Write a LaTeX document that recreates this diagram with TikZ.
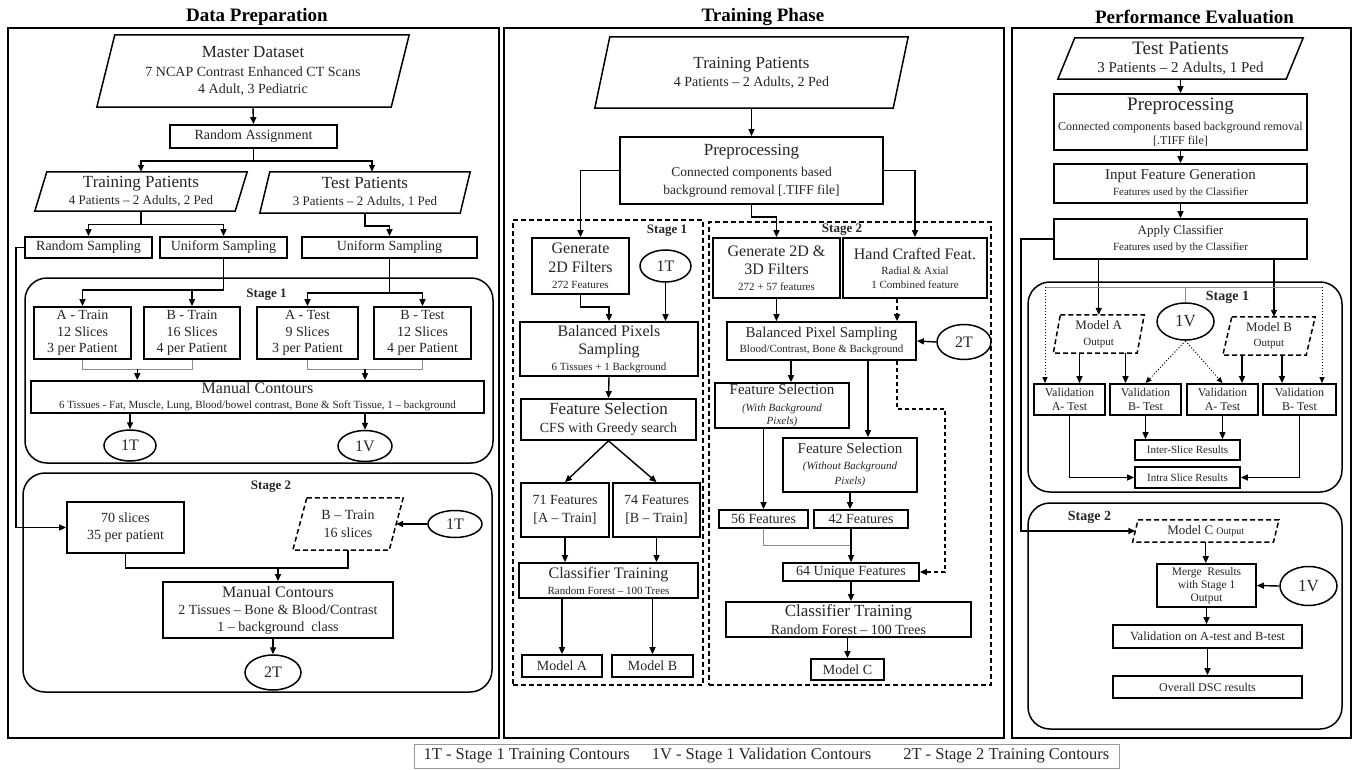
\documentclass[tikz,border=0pt]{standalone}
\usepackage{fontspec}
\setmainfont{Liberation Serif}
\usetikzlibrary{shapes.geometric,arrows.meta,calc}
\newcommand\fz[2]{\fontsize{#1pt}{#2pt}\selectfont}
\newcommand\drawpara[3][]{\draw[pline,#1] ([xshift=#3]#2.north west) -- ([xshift=#3]#2.north east) -- ([xshift=-#3]#2.south east) -- ([xshift=-#3]#2.south west) -- cycle;}
\begin{document}
\begin{tikzpicture}[x=1pt,y=-1pt,
 box/.style={draw, line width=1.7pt, inner sep=0pt, align=center, text=black!85, font=\fz{14}{17}},
 pbox/.style={inner sep=0pt, align=center, text=black!85, font=\fz{14}{17}},
 pline/.style={line width=1.5pt},
 dpline/.style={dash pattern=on 5pt off 3pt},
 ell/.style={ellipse, draw, line width=1.5pt, inner sep=0pt, text=black!85, font=\fz{16}{18}},
 arr/.style={line width=1.4pt, -{Triangle[length=7pt,width=6pt]}},
 ln/.style={line width=1.4pt},
 gl/.style={line width=0.7pt, draw=black!45},
 dotarr/.style={line width=1pt, dotted, -{Triangle[length=6pt,width=5pt]}},
 stagebox/.style={draw, line width=1.5pt, rounded corners=22pt, inner sep=0pt},
 dstage/.style={draw, line width=1.6pt, dash pattern=on 5pt off 3pt, inner sep=0pt},
 stl/.style={font=\bfseries\fz{13}{15}, text=black!85, inner sep=0pt},
 ttl/.style={font=\bfseries\fz{19}{21}, inner sep=0pt},
 panel/.style={draw, line width=2.2pt, inner sep=0pt}
]
\fill[white] (0,0) rectangle (1355,770);
\useasboundingbox (0,0) rectangle (1355,770);

% ---------- panels and titles
\node[panel, minimum width=491, minimum height=710] (pan1) at (253.5,383) {};
\node[panel, minimum width=500, minimum height=710] (pan2) at (754,383) {};
\node[panel, minimum width=339, minimum height=710] (pan3) at (1181.5,383) {};
\node[ttl] (t1) at (257,17) {Data Preparation};
\node[ttl] (t2) at (763,17) {Training Phase};
\node[ttl] (t3) at (1194.5,17) {Performance Evaluation};

% ================= PANEL 1
\node[pbox, minimum width=294, minimum height=72] (md) at (253,71) {{\fz{17}{19}Master Dataset}\\[2pt]7 NCAP Contrast Enhanced CT Scans\\4 Adult, 3 Pediatric};
\drawpara{md}{9}
\node[box, minimum width=167, minimum height=23] (ra) at (253.5,136.5) {Random Assignment};
\node[pbox, minimum width=200, minimum height=39, font=\fz{13}{17}] (tp1) at (141,191.5) {{\fz{17}{19}Training Patients}\\4 Patients – 2 Adults, 2 Ped};
\drawpara{tp1}{6}
\node[pbox, minimum width=200, minimum height=41, font=\fz{13}{17}] (ts1) at (365,192.5) {{\fz{17}{19}Test Patients}\\3 Patients – 2 Adults, 1 Ped};
\drawpara{ts1}{5}
\node[box, minimum width=127, minimum height=21] (rs) at (88.5,247.5) {Random Sampling};
\node[box, minimum width=127, minimum height=21] (us1) at (223.5,247.5) {Uniform Sampling};
\node[box, minimum width=175, minimum height=21] (us2) at (389.5,247.5) {Uniform Sampling};

\node[stagebox, minimum width=468, minimum height=185] (p1s1) at (259,370.5) {};
\node[stl] (p1s1l) at (266.5,295) {Stage 1};
\node[box, minimum width=97, minimum height=52, font=\fz{14}{16.5}] (at) at (82.5,333) {A - Train\\12 Slices\\3 per Patient};
\node[box, minimum width=96, minimum height=52, font=\fz{14}{16.5}] (bt) at (192,333) {B - Train\\16 Slices\\4 per Patient};
\node[box, minimum width=101, minimum height=52, font=\fz{14}{16.5}] (ae) at (307.5,333) {A - Test\\9 Slices\\3 per Patient};
\node[box, minimum width=97, minimum height=52, font=\fz{14}{16.5}] (be) at (422.5,333) {B - Test\\12 Slices\\4 per Patient};
\node[box, minimum width=453, minimum height=32, font=\fz{11}{15}] (mc1) at (257.5,397) {{\fz{16}{18}Manual Contours}\\6 Tissues - Fat, Muscle, Lung, Blood/bowel contrast, Bone \& Soft Tissue, 1 – background};
\node[ell, minimum width=52, minimum height=31] (e1t1) at (130,445.5) {1T};
\node[ell, minimum width=54, minimum height=31] (e1v1) at (365,446) {1V};

\node[stagebox, minimum width=469, minimum height=219] (p1s2) at (257.5,582.5) {};
\node[stl] (p1s2l) at (271,487) {Stage 2};
\node[box, minimum width=117, minimum height=51, font=\fz{14}{16.5}] (s70) at (125.5,527.5) {70 slices\\35 per patient};
\node[pbox, minimum width=96, minimum height=52, font=\fz{14}{18}] (bt2) at (348,524) {B – Train\\16 slices};
\drawpara[dpline]{bt2}{7}
\node[ell, minimum width=54, minimum height=27] (e1t2) at (455,524) {1T};
\node[box, minimum width=230, minimum height=56, font=\fz{14}{17}] (mc2) at (278,610) {{\fz{16}{18}Manual Contours}\\2 Tissues – Bone \& Blood/Contrast\\1 – background~~class};
\node[ell, minimum width=56, minimum height=35] (e2t1) at (273,672.5) {2T};

\draw[arr] (md.south) -- (ra.north);
\draw[arr] (ra.south) -- ++(0,12) -| (tp1.north);
\draw[arr] (ra.south) -- ++(0,12) -| ([xshift=7]ts1.north);
\draw[arr] (tp1.south) -- ++(0,13.5) -| (rs.north);
\draw[arr] (tp1.south) -- ++(0,13.5) -| (us1.north);
\draw[arr] (ts1.south) -- ++(0,13) -| (us2.north);
\draw[arr] (rs.west) -- ++(-8,0) |- (s70.west);
\draw[arr] (us1.south) -- ++(0,31) -| (at.north);
\draw[arr] (us1.south) -- ++(0,31) -| (bt.north);
\draw[arr] (us2.south) -- ++(0,34) -| (ae.north);
\draw[arr] (us2.south) -- ++(0,34) -| (be.north);
\draw[gl] (at.south) -- ++(0,9) -| (bt.south);
\draw[gl] (ae.south) -- ++(0,9) -| (be.south);
\coordinate (m1) at ($(at.south)!.5!(bt.south)+(0,9)$);
\coordinate (m2) at ($(ae.south)!.5!(be.south)+(0,9)$);
\draw[arr] (m1) -- (m1 |- mc1.north);
\draw[arr] (m2) -- (m2 |- mc1.north);
\draw[arr] (mc1.south -| e1t1.north) -- (e1t1.north);
\draw[arr] (mc1.south -| e1v1.north) -- (e1v1.north);
\draw[arr] (e1t2.west) -- (bt2.east);
\draw[ln] (s70.south) -- ++(0,14) coordinate (m3) -| (bt2.south);
\draw[arr] (m3 -| mc2.north) -- (mc2.north);
\draw[arr] (mc2.south -| e2t1.north) -- (e2t1.north);

% ================= PANEL 2
\node[pbox, minimum width=298, minimum height=71, font=\fz{14}{18}] (tp2) at (751.5,72.5) {{\fz{17}{19}Training Patients}\\4 Patients – 2 Adults, 2 Ped};
\drawpara{tp2}{7.5}
\node[box, minimum width=263, minimum height=67, font=\fz{13.5}{18}] (pp2) at (751.5,170.5) {{\fz{17}{19}Preprocessing}\\[3pt]Connected components based\\background removal [.TIFF file]};
\node[dstage, minimum width=190, minimum height=465] (p2s1) at (608,452.5) {};
\node[stl] (p2s1l) at (667,231) {Stage 1};
\node[dstage, minimum width=282, minimum height=463] (p2s2) at (850,453.5) {};
\node[stl] (p2s2l) at (842,230) {Stage 2};

\node[box, minimum width=97, minimum height=56, font=\fz{11}{16}] (g2d) at (580.5,266) {{\fz{16}{18}Generate}\\[3pt]{\fz{16}{18}2D Filters}\\272 Features};
\node[ell, minimum width=51, minimum height=32] (e1t3) at (665.5,266) {1T};
\node[box, minimum width=178, minimum height=54, font=\fz{11}{16}] (bps1) at (609,349) {{\fz{16}{18}Balanced Pixels}\\[2pt]{\fz{16}{18}Sampling}\\6 Tissues + 1 Background};
\node[box, minimum width=175, minimum height=41, font=\fz{14}{18}] (fs1) at (608.5,419.5) {{\fz{17}{19}Feature Selection}\\CFS with Greedy search};
\node[box, minimum width=88, minimum height=54, font=\fz{14}{18}] (f71) at (565,510) {71 Features\\{[A – Train]}};
\node[box, minimum width=87, minimum height=54, font=\fz{14}{18}] (f74) at (656.5,510) {74 Features\\{[B – Train]}};
\node[box, minimum width=179, minimum height=35, font=\fz{11}{16}] (ct1) at (608.5,580.5) {{\fz{16}{18}Classifier Training}\\Random Forest – 100 Trees};
\node[box, minimum width=80, minimum height=22] (ma) at (562,666) {Model A};
\node[box, minimum width=81, minimum height=22] (mb) at (652.5,666) {Model B};

\node[box, minimum width=127, minimum height=60, font=\fz{11}{16}] (g23) at (776.5,268) {{\fz{16}{18}Generate 2D \&}\\[2pt]{\fz{16}{18}3D Filters}\\272 + 57 features};
\node[box, minimum width=144, minimum height=60, font=\fz{11}{14}] (hcf) at (915,268) {{\fz{16}{18}Hand Crafted Feat.}\\[1pt]Radial \& Axial\\1 Combined feature};
\node[box, minimum width=189, minimum height=38, font=\fz{11}{15}] (bps2) at (821.5,341) {{\fz{15}{17}Balanced Pixel Sampling}\\Blood/Contrast, Bone \& Background};
\node[ell, minimum width=54, minimum height=35] (e2t2) at (964,342) {2T};
\node[box, minimum width=134, minimum height=45, font=\fz{11}{13}] (fsw) at (782,405.5) {{\fz{15}{17}Feature Selection}\\[4pt]\textit{(With Background}\\\textit{Pixels)}};
\node[box, minimum width=134, minimum height=54, font=\fz{11}{15.5}] (fswo) at (850,465) {{\fz{15}{17}Feature Selection}\\\textit{(Without Background}\\\textit{Pixels)}};
\node[box, minimum width=89, minimum height=18] (f56) at (763.5,519) {56 Features};
\node[box, minimum width=94, minimum height=18] (f42) at (861,519) {42 Features};
\node[box, minimum width=136, minimum height=18] (u64) at (851,572) {64 Unique Features};
\node[box, minimum width=245, minimum height=35, font=\fz{14}{18}] (ct2) at (848.5,619.5) {{\fz{17}{19}Classifier Training}\\Random Forest – 100 Trees};
\node[box, minimum width=73, minimum height=21] (mdc) at (847.5,669.5) {Model C};

\draw[arr] (tp2.south) -- (pp2.north);
\draw[arr] (pp2.west) -| (g2d.north);
\draw[arr] (pp2.east) -| (hcf.north);
\draw[arr] (pp2.south) -- ++(0,12) -| (g23.north);
\draw[arr] (e1t3.south) -- (e1t3.south |- bps1.north);
\draw[arr] (g2d.south) -- ++(0,12) -| (bps1.north);
\draw[arr] (bps1.south) -- (fs1.north);
\draw[arr] (fs1.south) -- (f71.north);
\draw[arr] (fs1.south) -- (f74.north);
\draw[arr] (f71.south) -- (f71.south |- ct1.north);
\draw[arr] (f74.south) -- (f74.south |- ct1.north);
\draw[arr] (ct1.south -| ma.north) -- (ma.north);
\draw[arr] (ct1.south -| mb.north) -- (mb.north);
\draw[arr] (g23.south) -- (g23.south |- bps2.north);
\coordinate (hcd) at ([xshift=-18]hcf.south);
\draw[arr, dash pattern=on 4pt off 3pt] (hcd) -- (hcd |- bps2.north);
\draw[arr] (e2t2.west) -- (bps2.east);
\coordinate (fswi) at ([xshift=9]fsw.north);
\draw[arr] (fswi |- bps2.south) -- (fswi);
\coordinate (fswoi) at ([xshift=18]fswo.north);
\draw[arr] (fswoi |- bps2.south) -- (fswoi);
\draw[arr, dash pattern=on 4pt off 3pt] (hcd |- bps2.south) -- ++(0,48) -- ++(48,0) |- (u64.east);
\draw[arr] (f56.north |- fsw.south) -- (f56.north);
\draw[arr] (fswo.south) -- (fswo.south |- f42.north);
\draw[gl] (f56.south) -- ++(0,16) -| (u64.north);
\draw[arr] (u64.north |- f42.south) -- (u64.north);
\draw[arr] (u64.south) -- (u64.south |- ct2.north);
\draw[arr] (mdc.north |- ct2.south) -- (mdc.north);

% ================= PANEL 3
\node[pbox, minimum width=228, minimum height=41, font=\fz{15}{18}] (tp3) at (1180.5,58.5) {{\fz{19}{21}Test Patients}\\3 Patients – 2 Adults, 1 Ped};
\drawpara{tp3}{8.5}
\node[box, minimum width=253, minimum height=56, font=\fz{12}{14}] (pp3) at (1180.5,122) {{\fz{19}{21}Preprocessing}\\[6pt]Connected components based background removal\\{[.TIFF file]}};
\node[box, minimum width=253, minimum height=39, font=\fz{11}{16}] (ifg) at (1180.5,183.5) {{\fz{15}{17}Input Feature Generation}\\Features used by the Classifier};
\node[box, minimum width=253, minimum height=40, font=\fz{11}{16}] (ac) at (1180.5,239) {{\fz{13}{15}Apply Classifier}\\Features used by the Classifier};

\node[stagebox, minimum width=314, minimum height=210] (p3s1) at (1185,387) {};
\node[stl, font=\bfseries\fz{14}{16}] (p3s1l) at (1227.5,297) {Stage 1};
\node[pbox, minimum width=83.5, minimum height=38, font=\fz{11}{16}] (mao) at (1098.75,334) {{\fz{13}{15}Model A}\\Output};
\drawpara[dpline]{mao}{3.5}
\node[pbox, minimum width=83, minimum height=38, font=\fz{11}{15}] (mbo) at (1269,336) {{\fz{13}{15}Model B}\\Output};
\drawpara[dpline]{mbo}{4.5}
\node[ell, minimum width=57, minimum height=37, font=\fz{17}{19}] (e1v2) at (1185.5,321.5) {1V};
\node[box, minimum width=71, minimum height=31, font=\fz{12}{14}] (v1) at (1069.5,399.5) {Validation\\A- Test};
\node[box, minimum width=71, minimum height=31, font=\fz{12}{14}] (v2) at (1145.5,399.5) {Validation\\B- Test};
\node[box, minimum width=71, minimum height=31, font=\fz{12}{14}] (v3) at (1222.5,399.5) {Validation\\A- Test};
\node[box, minimum width=73, minimum height=31, font=\fz{12}{14}] (v4) at (1299.5,399.5) {Validation\\B- Test};
\node[box, minimum width=105, minimum height=20, font=\fz{11}{13}] (isr) at (1187.5,450) {Inter-Slice Results};
\node[box, minimum width=105, minimum height=21, font=\fz{11}{13}] (intra) at (1187.5,477.5) {Intra Slice Results};

\node[stagebox, minimum width=314, minimum height=226] (p3s2) at (1185,616) {};
\node[stl, font=\bfseries\fz{14}{16}] (p3s2l) at (1089.5,517) {Stage 2};
\node[pbox, minimum width=140.5, minimum height=22, font=\fz{13}{15}] (mco) at (1205.75,531) {Model C {\fz{10}{12}Output}};
\drawpara[dpline]{mco}{2.75}
\node[box, minimum width=99, minimum height=43, font=\fz{11.5}{13}] (mr) at (1206.5,585.5) {Merge~~Results\\with Stage 1\\Output};
\node[ell, minimum width=57, minimum height=39, font=\fz{17}{19}] (e1v3) at (1308.5,586) {1V};
\node[box, minimum width=189, minimum height=23, font=\fz{12.5}{15}] (vab) at (1207.5,636.5) {Validation on A-test and B-test};
\node[box, minimum width=189, minimum height=22, font=\fz{12}{14}] (ods) at (1207.5,687) {Overall DSC results};

\draw[arr] (tp3.south) -- (pp3.north);
\draw[arr] (pp3.south) -- (ifg.north);
\draw[arr] (ifg.south) -- (ac.north);
\draw[arr] (ac.west) -- ++(-32,0) |- (mco.west);
\draw[arr] (ac.south -| mao.north) -- (mao.north);
\coordinate (bin) at ([xshift=5]mbo.north);
\draw[arr] (ac.south -| bin) -- (bin);
\draw[gl] (e1v2.north) -- ++(0,-15) coordinate (gt);
\coordinate (dl) at ([xshift=-24.5]v1.north);
\coordinate (dr) at ([xshift=22.5]v4.north);
\draw[gl] (dl |- gt) -- (dr |- gt);
\draw[dotarr] (dl |- gt) -- (dl);
\draw[dotarr] (dr |- gt) -- (dr);
\coordinate (v1i) at ([xshift=10]v1.north);
\coordinate (v2i) at ([xshift=-20]v2.north);
\coordinate (v3i) at ([xshift=19.5]v3.north);
\coordinate (v4i) at ([xshift=-17.5]v4.north);
\draw[arr] (v1i |- mao.south) -- (v1i);
\draw[arr] (v2i |- mao.south) -- (v2i);
\draw[arr] (v3i |- mbo.south) -- (v3i);
\draw[arr] (v4i |- mbo.south) -- (v4i);
\draw[dotarr] (e1v2.south) -- (v2.north);
\draw[dotarr] (e1v2.south) -- (v3.north);
\draw[arr] (v2.south) -- (v2.south |- isr.north);
\draw[arr] (v3.south) -- (v3.south |- isr.north);
\draw[arr] (v1.south) |- (intra.west);
\draw[arr] (v4.south) |- (intra.east);
\draw[arr] (mco.south) -- (mco.south |- mr.north);
\draw[arr] (e1v3.west) -- (mr.east);
\draw[arr] (mr.south) -- (mr.south |- vab.north);
\draw[arr] (vab.south) -- (vab.south |- ods.north);

% ================= legend
\node[draw=black!40, line width=0.8pt, minimum width=705, minimum height=24, inner sep=0pt, font=\fz{16.5}{19}, text=black!85] (leg) at (766.5,756) {1T - Stage 1 Training Contours\hspace{22pt}1V - Stage 1 Validation Contours\hspace{32pt}2T - Stage 2 Training Contours};
\end{tikzpicture}
\end{document}
